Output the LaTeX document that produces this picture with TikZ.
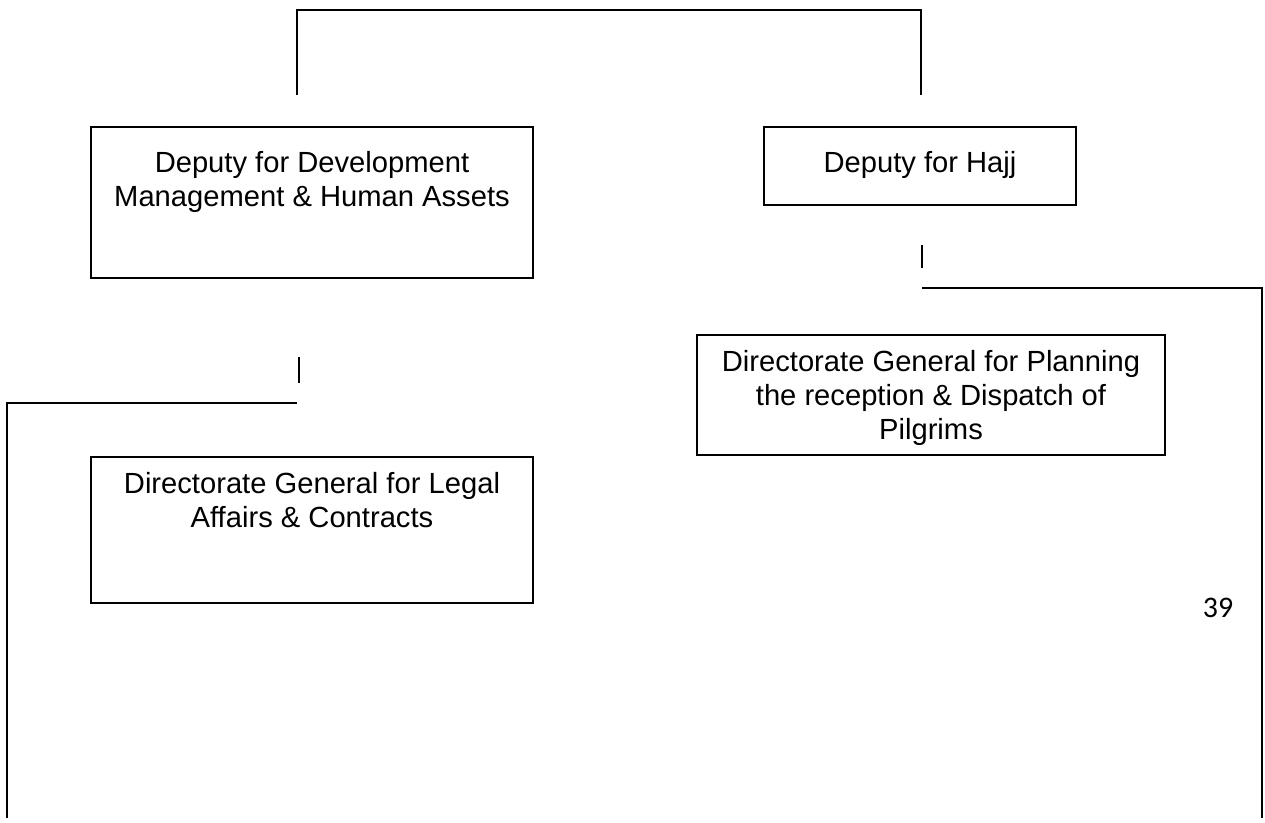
\documentclass[tikz,border=0pt]{standalone}
\usepackage{fontspec}
\setmainfont{Liberation Sans}
\newfontfamily\pagefont{Carlito}
\usetikzlibrary{positioning}

\tikzset{
	unitbox/.style={draw, line width=0.8pt, inner sep=0pt},
	unittext/.style={inner sep=0pt, align=center, font=\fontsize{16.6}{19.35}\selectfont},
	link/.style={line width=1pt}
}

\begin{document}
\begin{tikzpicture}[x=0.02cm,y=-0.02cm]
	\useasboundingbox (0,0) rectangle (1265,822);
	
	% Draw the boxes
	\node[unitbox, minimum width=8.84cm, minimum height=3.02cm] (dev) at (312,202.5) {};
	\node[unitbox, minimum width=6.24cm, minimum height=1.56cm] (hajj) at (920,166) {};
	\node[unitbox, minimum width=9.36cm, minimum height=2.4cm] (plan) at (931,395) {};
	\node[unitbox, minimum width=8.84cm, minimum height=2.92cm] (legal) at (312,530) {};
	
	% Texts in the boxes
	\node[unittext, below=0.5cm of dev.north] (devtext) {Deputy for Development\\Management \& Human Assets};
	\node[unittext, below=0.5cm of hajj.north] (hajjtext) {Deputy for Hajj};
	\node[unittext, below=0.32cm of plan.north] (plantext) {Directorate General for Planning\\the reception \& Dispatch of\\Pilgrims};
	\node[unittext, below=0.32cm of legal.north] (legaltext) {Directorate General for Legal\\Affairs \& Contracts};
	
	% Page number
	\node[inner sep=0pt, font=\pagefont\fontsize{17}{20}\selectfont] (pagenum) at (1218,608) {39};
	
	% Draw the top bracket
	\coordinate (topl) at (297,95);
	\coordinate (topr) at (921,95);
	\coordinate (topbar) at (609,10);
	\draw[link] (topl) |- (topbar) -| (topr);
	
	% Draw the line on the right
	\coordinate (hajjtick) at (922,245);
	\coordinate (hajjtickend) at (922,268);
	\coordinate (rightstart) at (922,288);
	\coordinate (rightend) at (1262,818);
	\draw[link] (hajjtick) -- (hajjtickend);
	\draw[link] (rightstart) -| (rightend);
	
	% Draw the line on the left
	\coordinate (devtick) at (299,357);
	\coordinate (devtickend) at (299,383);
	\coordinate (leftstart) at (297,403);
	\coordinate (leftend) at (7,818);
	\draw[link] (devtick) -- (devtickend);
	\draw[link] (leftstart) -| (leftend);
	
\end{tikzpicture}
\end{document}
